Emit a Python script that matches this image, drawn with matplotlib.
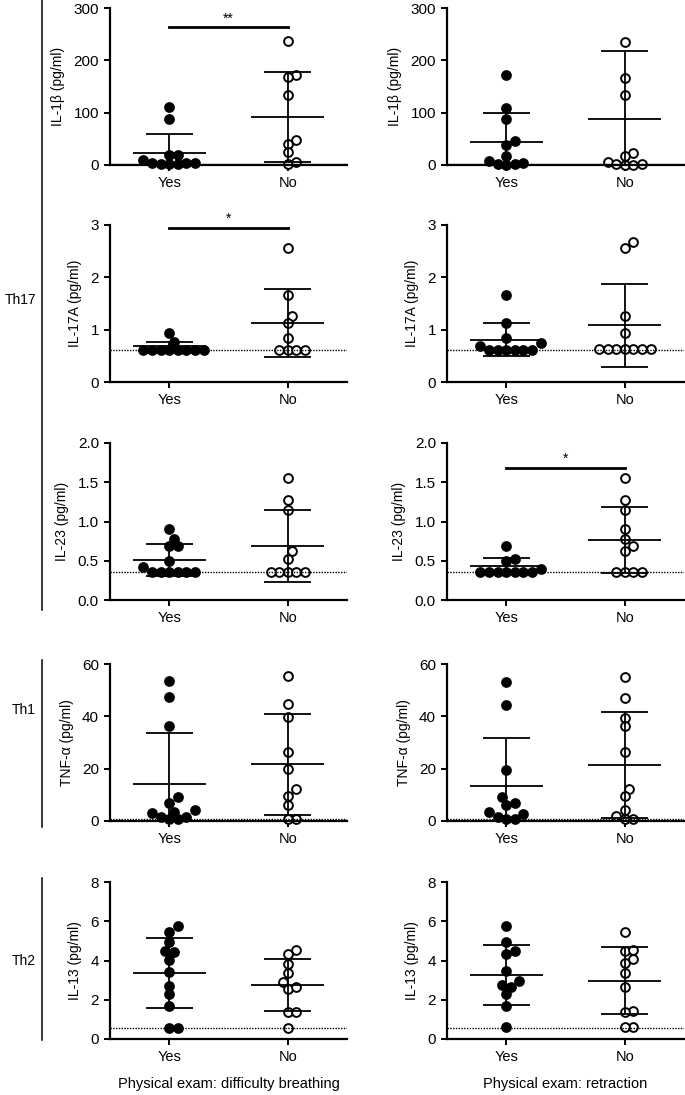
import matplotlib
matplotlib.use("Agg")
import matplotlib.pyplot as plt
from matplotlib.lines import Line2D
import numpy as np

plt.rcParams['font.family'] = ['Liberation Sans', 'DejaVu Sans']
plt.rcParams['font.size'] = 10

groups = ['Yes', 'No']
exam_labels = ['Physical exam: difficulty breathing', 'Physical exam: retraction']
cytokines = ['IL-1\u03b2 (pg/ml)', 'IL-17A (pg/ml)', 'IL-23 (pg/ml)', 'TNF-\u03b1 (pg/ml)', 'IL-13 (pg/ml)']
y_ticks = [[0, 100, 200, 300], [0, 1, 2, 3], [0.0, 0.5, 1.0, 1.5, 2.0], [0, 20, 40, 60], [0, 2, 4, 6, 8]]
tick_fmt = ['{:.0f}', '{:.0f}', '{:.1f}', '{:.0f}', '{:.0f}']
detect_limit = [2.5, 0.62, 0.36, 0.6, 0.57]

# individual values (yes, no) for each cytokine - difficulty breathing
il1b_breath_yes = [110, 87, 20, 19, 10, 3, 2, 2, 2, 3, 4]
il1b_breath_no = [236, 172, 168, 134, 48, 40, 24, 2, 5]
il17a_breath_yes = [0.93, 0.76, 0.62, 0.62, 0.62, 0.62, 0.62, 0.62, 0.62, 0.62]
il17a_breath_no = [2.57, 1.67, 1.27, 1.12, 0.84, 0.62, 0.62, 0.62, 0.62]
il23_breath_yes = [0.90, 0.78, 0.69, 0.69, 0.50, 0.42, 0.36, 0.36, 0.36, 0.36, 0.36, 0.36]
il23_breath_no = [1.55, 1.27, 1.15, 0.62, 0.52, 0.36, 0.36, 0.36, 0.36, 0.36]
tnf_breath_yes = [53.4, 47.3, 36.3, 9.1, 6.7, 4.2, 2.9, 1.7, 0.6, 0.6, 1.7, 3.4]
tnf_breath_no = [55.3, 44.7, 39.6, 26.3, 19.7, 12.1, 9.5, 6.1, 0.9, 0.9]
il13_breath_yes = [5.77, 5.43, 4.92, 4.45, 4.50, 4.04, 3.43, 2.72, 2.28, 1.69, 0.56, 0.56]
il13_breath_no = [4.55, 4.31, 3.82, 3.38, 2.91, 2.55, 2.64, 1.39, 1.39, 0.56]

# retraction
il1b_retr_yes = [172, 109, 87, 45, 38, 18, 8, 2, 0, 1, 4]
il1b_retr_no = [235, 167, 134, 22, 18, 5, 1, 0, 0, 2]
il17a_retr_yes = [1.67, 1.13, 0.84, 0.75, 0.68, 0.62, 0.62, 0.62, 0.62, 0.62, 0.62]
il17a_retr_no = [2.68, 2.57, 1.27, 0.93, 0.63, 0.63, 0.63, 0.63, 0.63, 0.63, 0.63]
il23_retr_yes = [0.69, 0.52, 0.50, 0.40, 0.36, 0.36, 0.36, 0.36, 0.36, 0.36, 0.36]
il23_retr_no = [1.55, 1.27, 1.15, 0.90, 0.78, 0.69, 0.62, 0.36, 0.36, 0.36, 0.36]
tnf_retr_yes = [53.2, 44.3, 19.6, 9.1, 6.2, 6.7, 3.4, 2.7, 1.6, 0.6, 0.9]
tnf_retr_no = [55.1, 47.1, 39.5, 36.2, 26.2, 12.3, 9.5, 4.2, 1.9, 0.6, 0.6]
il13_retr_yes = [5.77, 4.96, 4.50, 4.31, 3.49, 2.93, 2.76, 2.64, 2.28, 1.69, 0.59]
il13_retr_no = [5.47, 4.50, 4.55, 3.87, 4.06, 3.38, 2.67, 1.44, 1.40, 0.59, 0.59]

# mean and SD: [[yes, no] per cytokine]
mean_breath = [[23, 92], [0.685, 1.12], [0.51, 0.69], [14.1, 21.6], [3.37, 2.76]]
sd_breath = [[37, 86], [0.085, 0.65], [0.20, 0.46], [19.6, 19.3], [1.79, 1.32]]
mean_retr = [[43, 88], [0.81, 1.08], [0.43, 0.76], [13.5, 21.3], [3.25, 2.96]]
sd_retr = [[57, 130], [0.32, 0.79], [0.10, 0.42], [18.4, 20.3], [1.53, 1.71]]

# significance: (column, row) -> (bar height, stars)
signif = {(0, 0): (263, '**'), (0, 1): (2.94, '*'), (1, 2): (1.68, '*')}

data = [
    [(il1b_breath_yes, il1b_breath_no), (il17a_breath_yes, il17a_breath_no),
     (il23_breath_yes, il23_breath_no), (tnf_breath_yes, tnf_breath_no),
     (il13_breath_yes, il13_breath_no)],
    [(il1b_retr_yes, il1b_retr_no), (il17a_retr_yes, il17a_retr_no),
     (il23_retr_yes, il23_retr_no), (tnf_retr_yes, tnf_retr_no),
     (il13_retr_yes, il13_retr_no)],
]
means = [mean_breath, mean_retr]
sds = [sd_breath, sd_retr]

W, H = 685, 1095
fig = plt.figure(figsize=(W / 100, H / 100), dpi=100)

col_left = [110, 447]
col_width = 237
row_top = [8, 225, 443, 664, 882]
row_h = 157


def swarm_x(ax, vals, center, d_px=8.6):
    # simple beeswarm: put each point at the first free slot next to the center
    tr = ax.transData
    cx = tr.transform((center, 0))[0]
    unit = tr.transform((center + 1, 0))[0] - cx
    placed = []
    xs = np.zeros(len(vals))
    steps = [0]
    for k in range(1, 14):
        steps += [k * 0.5, -k * 0.5]
    for i in np.argsort(vals):
        py = tr.transform((center, vals[i]))[1]
        for k in steps:
            px = cx + k * d_px
            if all((px - qx) ** 2 + (py - qy) ** 2 >= (0.95 * d_px) ** 2 for qx, qy in placed):
                break
        placed.append((px, py))
        xs[i] = center + k * d_px / unit
    return xs


for c in range(2):
    for r in range(5):
        ax = fig.add_axes([col_left[c] / W, 1 - (row_top[r] + row_h) / H, col_width / W, row_h / H])
        ymax = y_ticks[r][-1]
        ax.set_xlim(-0.5, 1.5)
        ax.set_ylim(0, ymax)
        for s in ['top', 'right']:
            ax.spines[s].set_visible(False)
        for s in ['left', 'bottom']:
            ax.spines[s].set_linewidth(1.6)
        ax.set_yticks(y_ticks[r])
        ax.set_yticklabels([tick_fmt[r].format(t) for t in y_ticks[r]])
        ax.set_xticks([0, 1])
        ax.set_xticklabels(groups)
        ax.tick_params(width=1.4, length=4.5)
        ax.tick_params(axis='y', labelsize=11)
        ax.tick_params(axis='x', labelsize=10.5)
        ax.set_ylabel(cytokines[r], labelpad=6)

        ax.axhline(detect_limit[r], color='black', ls=(0, (1, 1)), lw=1, zorder=4)

        for g in range(2):
            vals = np.array(data[c][r][g], dtype=float)
            xs = swarm_x(ax, vals, g)
            face = 'black' if g == 0 else 'white'
            ax.scatter(xs, vals, s=40, facecolor=face, edgecolor='black', linewidth=1.4,
                       zorder=2, clip_on=False)
            m = means[c][r][g]
            sd = sds[c][r][g]
            ax.hlines(m, g - 0.31, g + 0.31, color='black', lw=1.3, zorder=3)
            ax.vlines(g, max(m - sd, 0), m + sd, color='black', lw=1.3, zorder=3)
            ax.hlines([m - sd, m + sd], g - 0.2, g + 0.2, color='black', lw=1.3, zorder=3)

        if (c, r) in signif:
            yb, stars = signif[(c, r)]
            ax.plot([0, 1], [yb, yb], color='black', lw=2, clip_on=False)
            ax.text(0.5, yb + ymax * 0.012, stars, ha='center', va='bottom', fontsize=10)

        if r == 4:
            ax.set_xlabel(exam_labels[c], labelpad=9, fontsize=10.5)

# Th group brackets on the left
groups_th = [('Th17', 0, 610, 300), ('Th1', 660, 827, 710), ('Th2', 878, 1040, 961)]
for name, y0, y1, yt in groups_th:
    fig.add_artist(Line2D([42 / W, 42 / W], [1 - y0 / H, 1 - y1 / H], color='black', lw=1.1))
    fig.text(36 / W, 1 - yt / H, name, ha='right', va='center', fontsize=10)

fig.savefig('out.png', dpi=100)
